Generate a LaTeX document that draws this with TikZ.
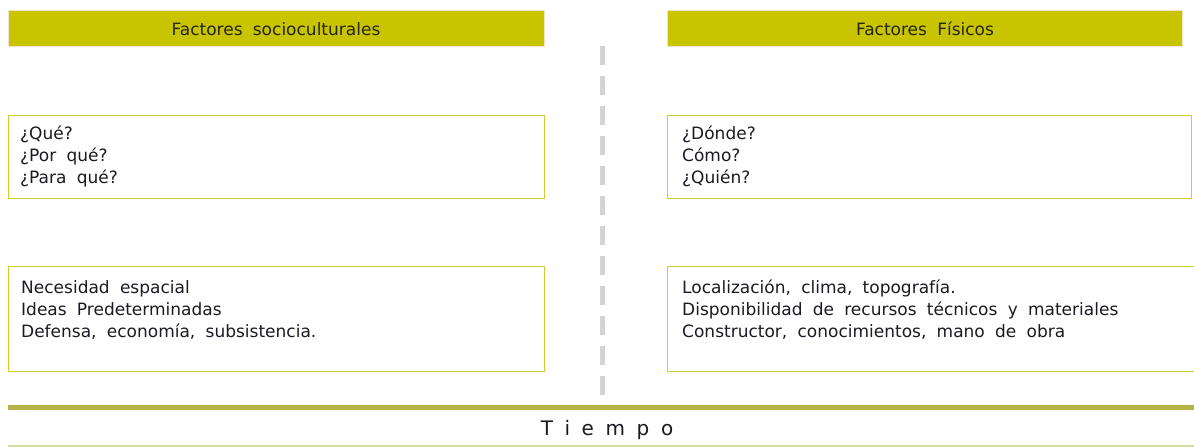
\documentclass[tikz,border=0pt]{standalone}
\usepackage{fontspec}
\setmainfont{DejaVu Sans}[WordSpace=1.9]
\definecolor{hdrfill}{HTML}{C8C400}
\definecolor{hdredge}{HTML}{F3E2CC}
\definecolor{boxedge}{HTML}{D4CC2E}
\definecolor{thickline}{HTML}{B3B347}
\definecolor{thinline}{HTML}{D8DC9E}
\definecolor{dashgray}{HTML}{D3D3D3}
\definecolor{txtcol}{HTML}{1A1A24}
\definecolor{hdrtxt}{HTML}{262610}
\tikzset{
  hdr/.style={draw=hdredge, line width=0.8pt, fill=hdrfill, anchor=north west, inner sep=0pt},
  hdrtext/.style={anchor=base, inner sep=0pt, text=hdrtxt, font=\fontsize{17}{20}\selectfont},
  frame/.style={draw=boxedge, line width=1.4pt, anchor=north west, inner sep=0pt},
  txt/.style={anchor=base west, inner sep=0pt, text=txtcol, font=\fontsize{17}{20}\selectfont},
}
\begin{document}
\begin{tikzpicture}[x=1pt,y=-1pt]
\useasboundingbox (0,0) rectangle (1194,447);
% headers
\node[hdr, minimum width=536pt, minimum height=36pt] (h1) at (8,10) {};
\node[hdr, minimum width=515pt, minimum height=36pt] (h2) at (667,10) {};
\node[hdrtext] (h1t) at (276,35) {Factores socioculturales};
\node[hdrtext] (h2t) at (925,35) {Factores Físicos};
% boxes
\node[frame, minimum width=536pt, minimum height=83pt] (b1) at (8,115) {};
\node[frame, minimum width=524pt, minimum height=83pt] (b2) at (667,115) {};
\node[frame, minimum width=536pt, minimum height=105pt] (b3) at (8,266) {};
\node[frame, minimum width=540pt, minimum height=105pt] (b4) at (667,266) {};
% texts
\node[txt] (t1a) at (20,139) {¿Qué?};
\node[txt] (t1b) at (20,161) {¿Por qué?};
\node[txt] (t1c) at (20,183) {¿Para qué?};
\node[txt] (t2a) at (682,139) {¿Dónde?};
\node[txt] (t2b) at (682,161) {Cómo?};
\node[txt] (t2c) at (682,183) {¿Quién?};
\node[txt] (t3a) at (21,293.5) {Necesidad espacial};
\node[txt] (t3b) at (21,315.5) {Ideas Predeterminadas};
\node[txt] (t3c) at (21,337) {Defensa, economía, subsistencia.};
\node[txt] (t4a) at (682,293.5) {Localización, clima, topografía.};
\node[txt] (t4b) at (682,315.5) {Disponibilidad de recursos técnicos y materiales};
\node[txt] (t4c) at (682,337) {Constructor, conocimientos, mano de obra};
% divider
\coordinate (d1) at (602,46);
\coordinate (d2) at (602,396);
\draw[dashgray, line width=5pt, dash pattern=on 19pt off 11pt] (d1) -- (d2);
% time axis
\coordinate (l1) at (8,407.5);
\coordinate (l2) at (1194,407.5);
\draw[thickline, line width=5pt] (l1) -- (l2);
\coordinate (m1) at (8,446);
\coordinate (m2) at (1194,446);
\draw[thinline, line width=1.2pt] (m1) -- (m2);
\node[font=\fontsize{20}{24}\selectfont, text=txtcol, inner sep=0pt, anchor=base] (tiempo) at (607,435) {T\hspace{0.58em}i\hspace{0.58em}e\hspace{0.58em}m\hspace{0.58em}p\hspace{0.58em}o};
\end{tikzpicture}
\end{document}
